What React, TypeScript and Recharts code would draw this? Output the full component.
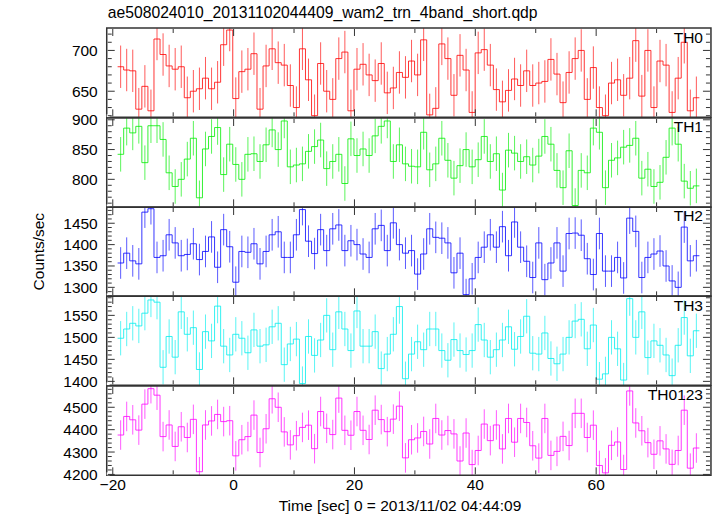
import React from "react";
import { LineChart, Line, XAxis, YAxis, ErrorBar, ReferenceArea } from "recharts";

const W = 717;
const H = 516;
const FONT = "'Liberation Sans', Arial, Helvetica, sans-serif";
const FRAME = "#333";
const PLOT_LEFT = 106.7;
const PLOT_RIGHT = 711;
const PLOT_TOP = 28.3;
const PANEL_H = 89.34;

const TITLE = "ae508024010_20131102044409_wam2_trn_4band_short.qdp";
const X_TITLE = "Time [sec] 0 = 2013/11/02 04:44:09";
const Y_TITLE = "Counts/sec";

// 1 s bins, first bin starts here
const T_START = -19.25;
const BIN = 1.003;

const X_DOMAIN = [-21, 79];
const X_MAJOR = [-20, 0, 20, 40, 60];
const X_MINOR = [-10, 10, 30, 50, 70];
const X_LABELS = ["\u221220", "0", "20", "40", "60"];

const TH0 = [
  680, 676, 675, 628, 656, 626, 714, 695, 681, 677,
  680, 642, 650, 653, 666, 653, 661, 707, 725, 641,
  674, 677, 696, 628, 681, 702, 685, 682, 657, 630,
  702, 664, 620, 684, 650, 640, 690, 698, 626, 677,
  683, 670, 663, 684, 648, 654, 673, 667, 687, 670,
  713, 621, 629, 708, 690, 645, 694, 676, 624, 697,
  701, 682, 652, 637, 651, 665, 657, 675, 657, 660,
  662, 689, 671, 636, 673, 690, 700, 640, 679, 630,
  620, 660, 664, 645, 666, 712, 644, 700, 630, 687,
  682, 624, 666, 710, 626, 642,
];
const TH0_ERR = 26;
const TH0_DOMAIN = [618, 727.5];
const TH0_MAJOR = [650, 700];
const TH0_MINOR = [620, 630, 640, 660, 670, 680, 690, 710, 720];

const TH1 = [
  842, 886, 878, 889, 828, 890, 890, 867, 811, 788,
  800, 834, 869, 769, 851, 872, 887, 808, 859, 825,
  800, 842, 843, 830, 858, 883, 850, 898, 821, 824,
  826, 847, 855, 866, 818, 830, 842, 793, 868, 840,
  851, 840, 873, 889, 898, 830, 858, 826, 822, 821,
  879, 816, 826, 869, 832, 802, 823, 850, 821, 833,
  872, 830, 843, 782, 849, 844, 830, 838, 824, 839,
  872, 859, 815, 786, 848, 756, 815, 811, 886, 879,
  786, 832, 836, 854, 857, 869, 802, 817, 788, 795,
  837, 886, 859, 797, 785, 789,
];
const TH1_ERR = 29;
const TH1_DOMAIN = [753, 903];
const TH1_MAJOR = [800, 850, 900];
const TH1_MINOR = [760, 770, 780, 790, 810, 820, 830, 840, 860, 870, 880, 890];

const TH2 = [
  1357, 1380, 1362, 1355, 1476, 1484, 1370, 1374, 1423, 1404,
  1374, 1377, 1402, 1365, 1384, 1418, 1347, 1435, 1395, 1312,
  1384, 1382, 1402, 1355, 1384, 1423, 1430, 1370, 1370, 1423,
  1482, 1408, 1379, 1435, 1386, 1437, 1446, 1386, 1409, 1400,
  1378, 1370, 1437, 1445, 1386, 1451, 1400, 1380, 1386, 1331,
  1378, 1437, 1417, 1415, 1404, 1334, 1380, 1283, 1320, 1370,
  1394, 1423, 1394, 1442, 1374, 1453, 1394, 1361, 1323, 1404,
  1318, 1357, 1404, 1338, 1426, 1427, 1422, 1367, 1330, 1426,
  1338, 1338, 1370, 1322, 1462, 1431, 1323, 1370, 1378, 1385,
  1350, 1315, 1300, 1441, 1362, 1374,
];
const TH2_ERR = 37;
const TH2_DOMAIN = [1279, 1488];
const TH2_MAJOR = [1300, 1350, 1400, 1450];
const TH2_MINOR = [
  1280, 1290, 1310, 1320, 1330, 1340, 1360, 1370, 1380, 1390,
  1410, 1420, 1430, 1440, 1460, 1470, 1480,
];

const TH3 = [
  1498, 1519, 1532, 1526, 1555, 1585, 1580, 1432, 1502, 1455,
  1558, 1507, 1522, 1427, 1513, 1492, 1571, 1480, 1460, 1507,
  1498, 1465, 1517, 1480, 1483, 1524, 1532, 1438, 1485, 1496,
  1395, 1502, 1459, 1494, 1550, 1472, 1558, 1519, 1470, 1560,
  1480, 1480, 1513, 1429, 1462, 1507, 1570, 1406, 1462, 1490,
  1472, 1519, 1519, 1470, 1448, 1495, 1470, 1461, 1470, 1529,
  1494, 1455, 1472, 1494, 1524, 1473, 1502, 1548, 1464, 1462,
  1510, 1452, 1440, 1462, 1500, 1537, 1541, 1474, 1528, 1405,
  1417, 1500, 1474, 1403, 1588, 1500, 1558, 1454, 1492, 1482,
  1460, 1413, 1482, 1545, 1458, 1515,
];
const TH3_ERR = 39;
const TH3_DOMAIN = [1391, 1594];
const TH3_MAJOR = [1400, 1450, 1500, 1550];
const TH3_MINOR = [
  1410, 1420, 1430, 1440, 1460, 1470, 1480, 1490, 1510, 1520,
  1530, 1540, 1560, 1570, 1580, 1590,
];

const TH0123 = [
  4376, 4459, 4444, 4398, 4514, 4583, 4554, 4369, 4421, 4325,
  4413, 4365, 4446, 4212, 4421, 4439, 4468, 4436, 4440, 4283,
  4355, 4369, 4465, 4298, 4404, 4538, 4500, 4390, 4332, 4373,
  4410, 4420, 4315, 4481, 4406, 4378, 4541, 4397, 4375, 4481,
  4397, 4356, 4487, 4445, 4391, 4447, 4505, 4274, 4355, 4363,
  4392, 4336, 4450, 4376, 4396, 4381, 4260, 4385, 4244, 4307,
  4425, 4351, 4421, 4314, 4450, 4344, 4450, 4432, 4328, 4273,
  4450, 4285, 4303, 4370, 4329, 4473, 4473, 4365, 4420, 4240,
  4207, 4330, 4345, 4222, 4573, 4430, 4395, 4342, 4290, 4350,
  4314, 4245, 4307, 4487, 4228, 4318,
];
const TH0123_ERR = 66;
const TH0123_DOMAIN = [4196, 4595];
const TH0123_MAJOR = [4200, 4300, 4400, 4500];
const TH0123_MINOR = [
  4220, 4240, 4260, 4280, 4320, 4340, 4360, 4380, 4420, 4440,
  4460, 4480, 4520, 4540, 4560, 4580,
];

const PANELS = [
  { name: "TH0", values: TH0, err: TH0_ERR, domain: TH0_DOMAIN, major: TH0_MAJOR, minor: TH0_MINOR, color: "#ff0000" },
  { name: "TH1", values: TH1, err: TH1_ERR, domain: TH1_DOMAIN, major: TH1_MAJOR, minor: TH1_MINOR, color: "#00ee00" },
  { name: "TH2", values: TH2, err: TH2_ERR, domain: TH2_DOMAIN, major: TH2_MAJOR, minor: TH2_MINOR, color: "#0000ff" },
  { name: "TH3", values: TH3, err: TH3_ERR, domain: TH3_DOMAIN, major: TH3_MAJOR, minor: TH3_MINOR, color: "#00eeee" },
  { name: "TH0123", values: TH0123, err: TH0123_ERR, domain: TH0123_DOMAIN, major: TH0123_MAJOR, minor: TH0123_MINOR, color: "#ff00ff" },
];

const sorted = (a: number[], b: number[]) => [...a, ...b].sort((p, q) => p - q);

// tick marks point into the plot; labels only on the left
function yTick(side: "left" | "right", major: number[]) {
  return (p: any) => {
    const v = p.payload.value;
    const isMajor = major.includes(v);
    const len = isMajor ? 7 : 4;
    const x0 = side === "left" ? p.x + 1 : p.x - 1;
    const x2 = side === "left" ? x0 + len : x0 - len;
    return (
      <g>
        <line x1={x0} y1={p.y} x2={x2} y2={p.y} stroke={FRAME} strokeWidth={1} />
        {side === "left" && isMajor ? (
          <text x={x0 - 10} y={p.y + 5.5} textAnchor="end" fontSize={15.5} fontFamily={FONT} fill="#000">
            {v}
          </text>
        ) : null}
      </g>
    );
  };
}

function xTick(side: "top" | "bottom", showLabels: boolean) {
  return (p: any) => {
    const v = p.payload.value;
    const mi = X_MAJOR.indexOf(v);
    const len = mi >= 0 ? 7 : 4;
    const y0 = side === "bottom" ? p.y - 1 : p.y + 1;
    const y2 = side === "bottom" ? y0 - len : y0 + len;
    return (
      <g>
        <line x1={p.x} y1={y0} x2={p.x} y2={y2} stroke={FRAME} strokeWidth={1} />
        {side === "bottom" && showLabels && mi >= 0 ? (
          <text x={p.x} y={y0 + 16} textAnchor="middle" fontSize={15.5} fontFamily={FONT} fill="#000">
            {X_LABELS[mi]}
          </text>
        ) : null}
      </g>
    );
  };
}

// frame, ticks and labels; the data sits in a second chart cut to the plot box
function PanelFrame({ idx, panel, last }: { idx: number; panel: any; last: boolean }) {
  const pad = 10;
  const bottom = last ? 26 : pad;
  const top = PLOT_TOP + idx * PANEL_H;
  const anchor = [{ t: X_DOMAIN[0], v: panel.domain[0] }];
  const yTicks = sorted(panel.major, panel.minor);
  const xTicks = sorted(X_MAJOR, X_MINOR);

  return (
    <div style={{ position: "absolute", left: 0, top: top - pad }}>
      <LineChart
        width={W}
        height={PANEL_H + pad + bottom}
        margin={{ top: pad - 1, right: W - PLOT_RIGHT - 1, bottom: bottom - 1, left: PLOT_LEFT - 60 }}
      >
        <XAxis
          xAxisId="b"
          type="number"
          dataKey="t"
          orientation="bottom"
          domain={X_DOMAIN}
          allowDataOverflow
          ticks={xTicks}
          interval={0}
          height={1}
          tickSize={0}
          tickMargin={0}
          tickLine={false}
          axisLine={false}
          tick={xTick("bottom", last)}
        />
        <XAxis
          xAxisId="t"
          type="number"
          dataKey="t"
          orientation="top"
          domain={X_DOMAIN}
          allowDataOverflow
          ticks={xTicks}
          interval={0}
          height={1}
          tickSize={0}
          tickMargin={0}
          tickLine={false}
          axisLine={false}
          tick={xTick("top", false)}
        />
        <YAxis
          yAxisId="l"
          type="number"
          orientation="left"
          domain={panel.domain}
          allowDataOverflow
          ticks={yTicks}
          interval={0}
          width={60}
          tickSize={0}
          tickMargin={0}
          tickLine={false}
          axisLine={false}
          tick={yTick("left", panel.major)}
        />
        <YAxis
          yAxisId="r"
          type="number"
          orientation="right"
          domain={panel.domain}
          allowDataOverflow
          ticks={yTicks}
          interval={0}
          width={1}
          tickSize={0}
          tickMargin={0}
          tickLine={false}
          axisLine={false}
          tick={yTick("right", panel.major)}
        />
        <Line
          xAxisId="b"
          yAxisId="l"
          data={anchor}
          dataKey="v"
          stroke="none"
          dot={false}
          isAnimationActive={false}
        />
        <ReferenceArea
          xAxisId="b"
          yAxisId="l"
          x1={X_DOMAIN[0]}
          x2={X_DOMAIN[1]}
          y1={panel.domain[0]}
          y2={panel.domain[1]}
          fill="none"
          stroke={FRAME}
          strokeWidth={1.5}
          ifOverflow="visible"
        />
      </LineChart>
    </div>
  );
}

function PanelData({ idx, panel }: { idx: number; panel: any }) {
  const top = PLOT_TOP + idx * PANEL_H;
  const n = panel.values.length;
  const stepData = panel.values.map((v: number, i: number) => ({ t: T_START + i * BIN, v }));
  stepData.push({ t: T_START + n * BIN, v: panel.values[n - 1] });
  const errData = panel.values.map((v: number, i: number) => ({
    t: T_START + (i + 0.5) * BIN,
    v,
    e: panel.err,
  }));

  return (
    <div style={{ position: "absolute", left: PLOT_LEFT, top }}>
      <LineChart
        width={PLOT_RIGHT - PLOT_LEFT}
        height={PANEL_H}
        margin={{ top: 0, right: 0, bottom: 0, left: 0 }}
      >
        <XAxis hide type="number" dataKey="t" domain={X_DOMAIN} allowDataOverflow />
        <YAxis hide type="number" domain={panel.domain} allowDataOverflow />
        <Line
          data={stepData}
          dataKey="v"
          type="stepAfter"
          stroke={panel.color}
          strokeOpacity={0.8}
          strokeWidth={1}
          dot={false}
          isAnimationActive={false}
        />
        <Line data={errData} dataKey="v" stroke="none" dot={false} isAnimationActive={false}>
          <ErrorBar dataKey="e" direction="y" width={0} stroke={panel.color} strokeOpacity={0.65} strokeWidth={1} />
        </Line>
      </LineChart>
    </div>
  );
}

export default function App() {
  const plotBottom = PLOT_TOP + 5 * PANEL_H;
  return (
    <div style={{ position: "absolute", left: 0, top: 0, width: W, height: H, background: "#fff", fontFamily: FONT }}>
      {PANELS.map((p, i) => (
        <PanelData key={"d" + p.name} idx={i} panel={p} />
      ))}
      {PANELS.map((p, i) => (
        <PanelFrame key={"f" + p.name} idx={i} panel={p} last={i === PANELS.length - 1} />
      ))}
      <svg width={W} height={H} style={{ position: "absolute", left: 0, top: 0, pointerEvents: "none" }}>
        <text x={107.8} y={18} fontSize={15.7} fontFamily={FONT} fill="#000">
          {TITLE}
        </text>
        {PANELS.map((p, i) => (
          <text
            key={p.name}
            x={703}
            y={PLOT_TOP + i * PANEL_H + 14.5}
            textAnchor="end"
            fontSize={15.5}
            fontFamily={FONT}
            fill="#000"
          >
            {p.name}
          </text>
        ))}
        <text
          transform={`translate(44, ${(PLOT_TOP + plotBottom) / 2}) rotate(-90)`}
          textAnchor="middle"
          fontSize={15.5}
          fontFamily={FONT}
          fill="#000"
        >
          {Y_TITLE}
        </text>
        <text x={400} y={511} textAnchor="middle" fontSize={15.5} fontFamily={FONT} fill="#000">
          {X_TITLE}
        </text>
      </svg>
    </div>
  );
}
